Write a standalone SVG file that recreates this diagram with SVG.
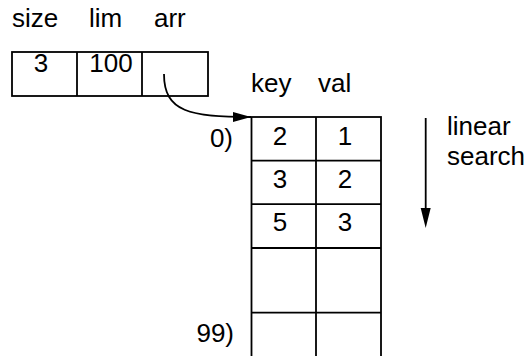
<svg xmlns="http://www.w3.org/2000/svg" width="532" height="356" viewBox="0 0 532 356">
<style>
text{font-family:"Liberation Sans",Arial,Helvetica,sans-serif;font-size:26px;fill:#000}
.c{text-anchor:middle}
.e{text-anchor:end}
.box{fill:#fff;stroke:#000;stroke-width:1.8}
.ln{stroke:#000;stroke-width:1.8;fill:none}
</style>
<defs>
<marker id="ah" markerWidth="18" markerHeight="10" refX="18" refY="5" orient="auto" markerUnits="userSpaceOnUse">
<path d="M0,0 L18,5 L0,10 Z" fill="#000"/>
</marker>
</defs>
<g id="labels-top">
<text x="12" y="27">size</text>
<text x="89" y="27">lim</text>
<text x="154" y="27">arr</text>
</g>
<g id="struct">
<rect class="box" x="12" y="52" width="196" height="44"/>
<line class="ln" x1="77" y1="52" x2="77" y2="96"/>
<line class="ln" x1="142" y1="52" x2="142" y2="96"/>
<text class="c" x="41" y="72">3</text>
<text class="c" x="111" y="72">100</text>
</g>
<g id="headers">
<text x="251" y="92">key</text>
<text x="318" y="92">val</text>
</g>
<g id="table">
<rect class="box" x="251.5" y="117" width="129.5" height="242"/>
<line class="ln" x1="316" y1="117" x2="316" y2="359"/>
<line class="ln" x1="251.5" y1="160.7" x2="381" y2="160.7"/>
<line class="ln" x1="251.5" y1="204.2" x2="381" y2="204.2"/>
<line class="ln" x1="251.5" y1="248" x2="381" y2="248"/>
<line class="ln" x1="251.5" y1="312.7" x2="381" y2="312.7"/>
<text class="c" x="280" y="145">2</text>
<text class="c" x="345" y="145">1</text>
<text class="c" x="280" y="187.5">3</text>
<text class="c" x="345" y="187.5">2</text>
<text class="c" x="280" y="231">5</text>
<text class="c" x="345" y="231">3</text>
</g>
<g id="indices">
<text class="e" x="233" y="146.5">0)</text>
<text class="e" x="234" y="341.5">99)</text>
</g>
<g id="search-note">
<text x="447" y="134.5">linear</text>
<text x="447" y="164.5">search</text>
</g>
<g id="connectors">
<path class="ln" d="M164,74 C164,112 190,117 251,117" marker-end="url(#ah)"/>
<line class="ln" x1="425.7" y1="118" x2="425.7" y2="212"/>
<path d="M420.7,208 L430.7,208 L425.7,228 Z" fill="#000"/>
</g>
</svg>
